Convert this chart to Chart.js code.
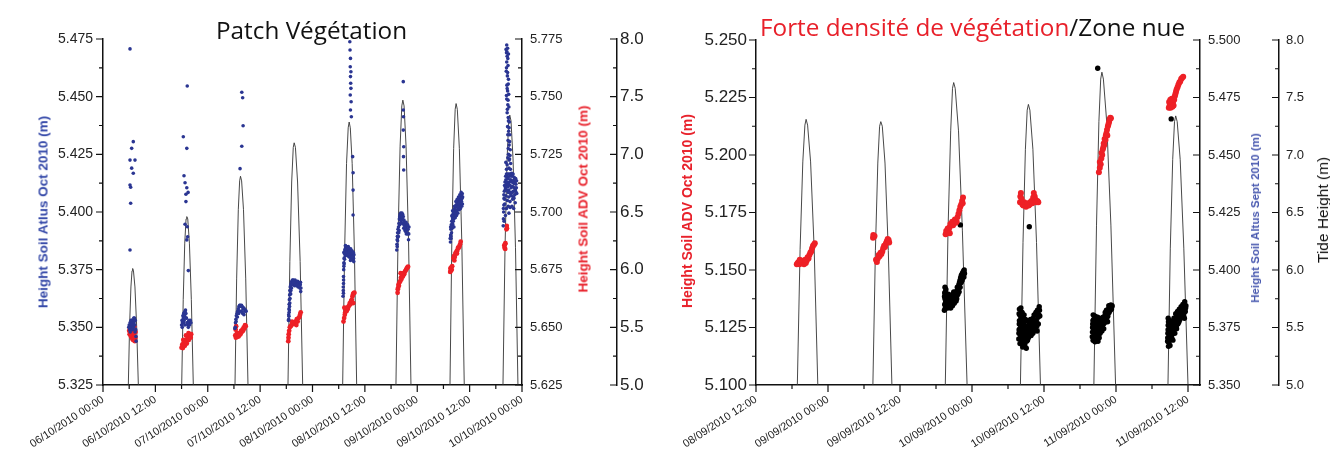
<!DOCTYPE html>
<html>
<head>
<meta charset="utf-8">
<script src="https://cdn.jsdelivr.net/npm/chart.js@4.4.0/dist/chart.umd.min.js"></script>
<style>
  body { margin: 0; background: #fff; }
  #wrap { position: relative; width: 1330px; height: 465px; overflow: hidden; font-family: "Liberation Sans", Arial, sans-serif; }
  canvas { position: absolute; top: 0; }
  .title { position: absolute; font-family: "Open Sans", sans-serif; font-size: 24.3px; line-height: 24px; white-space: nowrap; color: #111; }
  .ytitle { position: absolute; white-space: nowrap; transform: translate(-50%, -50%) rotate(-90deg); font-weight: bold; }
</style>
</head>
<body>
<div id="wrap">
  <canvas id="leftChart" width="665" height="465" style="left:0"></canvas>
  <canvas id="rightChart" width="665" height="465" style="left:665px"></canvas>
  <div class="title" style="left:216px;top:18px">Patch Végétation</div>
  <div class="title" style="left:760px;top:15px"><span style="color:#e8202a">Forte densité de végétation</span>/Zone nue</div>
  <div class="ytitle" style="left:43px;top:212px;font-size:13.5px;color:#3448a8">Height Soil Atlus Oct 2010 (m)</div>
  <div class="ytitle" style="left:583px;top:199px;font-size:13.5px;color:#e8202a">Height Soil ADV Oct 2010 (m)</div>
  <div class="ytitle" style="left:687px;top:211px;font-size:14px;color:#e8202a">Height Soil ADV Oct 2010 (m)</div>
  <div class="ytitle" style="left:1255px;top:218px;font-size:11.5px;color:#4a5ab0">Height Soil Altus Sept 2010 (m)</div>
  <div class="ytitle" style="left:1323px;top:210px;font-size:15.5px;font-weight:normal;color:#111">Tide Height (m)</div>
</div>
<script>
// ===== DATA (x = hours after first tick) =====
const leftDates = ["06/10/2010 00:00", "06/10/2010 12:00", "07/10/2010 00:00", "07/10/2010 12:00",
  "08/10/2010 00:00", "08/10/2010 12:00", "09/10/2010 00:00", "09/10/2010 12:00", "10/10/2010 00:00"];
const rightDates = ["08/09/2010 12:00", "09/09/2010 00:00", "09/09/2010 12:00", "10/09/2010 00:00",
  "10/09/2010 12:00", "11/09/2010 00:00", "11/09/2010 12:00"];

// left panel, blue: Height Soil Atlus Oct 2010
const atlusOct = [
  [6.19,5.4707],[6.94,5.4305],[6.57,5.4276],[6.19,5.4225],[7.33,5.4225],[6.57,5.419],[6.94,5.4168],[6.19,5.4117],[6.34,5.4107],[6.34,5.4038],[6.19,5.3835],
  [5.9,5.350],[6.0,5.351],[6.1,5.349],[6.2,5.352],[6.3,5.350],[6.4,5.351],[6.5,5.353],[6.6,5.350],[6.7,5.352],[6.8,5.351],[6.9,5.353],[7.0,5.350],[7.1,5.352],[7.2,5.354],[7.3,5.351],[7.4,5.353],[7.5,5.349],[7.55,5.346],[7.6,5.344],[6.25,5.348],[6.45,5.353],[6.75,5.349],[7.05,5.354],[7.35,5.348],
  [18.4,5.4326],[19.3,5.4546],[19.2,5.4276],[18.56,5.4157],[18.8,5.4127],[19.2,5.4105],[19.5,5.4085],[19.0,5.4077],[19.0,5.4045],[18.8,5.3947],[19.3,5.3936],[19.4,5.3893],[19.2,5.3879],[19.55,5.3746],
  [18.0,5.351],[18.1,5.353],[18.2,5.352],[18.3,5.355],[18.4,5.354],[18.5,5.356],[18.6,5.353],[18.7,5.355],[18.8,5.357],[18.9,5.3575],[19.0,5.356],[19.1,5.354],[19.25,5.352],[19.4,5.351],[19.55,5.350],[19.7,5.352],[19.85,5.351],[20.0,5.353],[20.15,5.352],[18.15,5.350],[18.45,5.352],[18.75,5.351],[19.05,5.354],[19.35,5.352],[19.65,5.353],[18.65,5.3565],
  [31.8,5.4519],[32.0,5.4495],[32.1,5.4374],[31.8,5.4285],[31.4,5.4188],
  [30.2,5.3495],[30.3,5.350],[30.35,5.352],[30.45,5.3535],[30.55,5.355],[30.7,5.356],[30.85,5.357],[31.0,5.358],[31.15,5.359],[31.3,5.3595],[31.45,5.3595],[31.6,5.359],[31.75,5.3595],[31.9,5.359],[32.05,5.358],[32.2,5.3585],[32.35,5.358],[32.5,5.357],[32.65,5.3575],[32.8,5.357],[30.5,5.3525],[30.8,5.3545],[31.1,5.356],[31.4,5.357],[31.7,5.357],[32.0,5.356],[32.3,5.3555],
  [42.5,5.353],[42.55,5.3555],[42.6,5.358],[42.65,5.360],[42.7,5.362],[42.75,5.364],[42.8,5.366],[42.9,5.3675],[43.0,5.368],[43.1,5.369],[43.25,5.370],[43.4,5.3705],[43.6,5.3705],[43.8,5.370],[44.0,5.3705],[44.2,5.370],[44.4,5.3695],[44.6,5.370],[44.8,5.3695],[45.0,5.369],[45.2,5.3685],[45.35,5.367],[42.55,5.3535],[42.65,5.3565],[42.75,5.359],[42.85,5.3625],[43.0,5.3645],[43.2,5.367],[43.5,5.3685],[43.9,5.368],[44.3,5.368],[44.7,5.3675],[45.1,5.367],
  [42.6,5.3548],[42.7,5.3575],[42.8,5.3605],[42.9,5.3645],[43.05,5.366],[43.15,5.3685],[43.35,5.3688],[43.7,5.3692],[44.1,5.3688],[44.5,5.3685],[44.9,5.368],[45.25,5.3695],[45.3,5.3655],
  [56.55,5.4738],[56.6,5.4702],[56.7,5.4666],[56.65,5.463],[56.8,5.4608],[56.7,5.4587],[56.75,5.4558],[56.8,5.4536],[56.65,5.4507],[56.85,5.4478],[56.7,5.4442],[56.9,5.4413],[57.2,5.424],[57.3,5.417],[57.3,5.4095],[57.3,5.3987],
  [55.0,5.3635],[55.05,5.366],[55.1,5.369],[55.1,5.372],[55.15,5.375],[55.2,5.378],[55.25,5.380],[55.3,5.382],[55.4,5.3835],[55.5,5.384],[55.6,5.385],[55.7,5.3835],[55.8,5.385],[55.9,5.384],[56.0,5.3845],[56.1,5.383],[56.2,5.385],[56.3,5.3835],[56.4,5.384],[56.5,5.382],[56.6,5.3835],[56.7,5.3815],[56.8,5.3825],[56.9,5.381],[57.0,5.3805],[57.1,5.382],[57.2,5.3795],[57.3,5.381],[57.4,5.380],[57.5,5.3815],[55.5,5.381],[55.8,5.3815],[56.1,5.381],[56.4,5.3805],[56.7,5.379],[55.2,5.3825],[55.35,5.3795],
  [55.45,5.3825],[55.65,5.3815],[55.95,5.382],[56.25,5.3815],[56.55,5.3805],[56.85,5.3795],[57.15,5.3805],[57.45,5.3785],[55.55,5.3855],[55.85,5.3838],[56.15,5.3842],[56.45,5.3828],[56.75,5.384],[57.05,5.3832],[57.35,5.3825],[55.05,5.3675],[55.12,5.3705],[55.18,5.3765],[55.25,5.3775],[55.08,5.3648],
  [68.8,5.4565],[68.8,5.4442],[68.85,5.4413],[68.8,5.4355],[68.9,5.4283],[68.85,5.424],[68.9,5.4182],
  [67.3,5.3835],[67.35,5.386],[67.4,5.388],[67.45,5.3895],[67.5,5.391],[67.6,5.3925],[67.7,5.3935],[67.8,5.395],[67.9,5.397],[68.0,5.398],[68.1,5.399],[68.2,5.3995],[68.35,5.399],[68.5,5.3995],[68.65,5.399],[68.8,5.398],[68.95,5.3965],[69.1,5.395],[69.25,5.394],[69.4,5.393],[69.55,5.394],[69.7,5.3925],[69.85,5.3905],[70.0,5.388],[67.55,5.389],[67.75,5.391],[68.0,5.3945],[68.3,5.3955],[68.6,5.395],[68.9,5.393],[69.2,5.392],[69.5,5.3905],[69.8,5.3945],[70.1,5.3935],
  [67.4,5.385],[67.5,5.3875],[67.65,5.3895],[67.85,5.392],[68.05,5.3965],[68.25,5.397],[68.45,5.397],[68.7,5.3965],[68.95,5.3945],[69.15,5.3935],[69.35,5.3915],[69.6,5.392],[69.9,5.3925],[70.05,5.3905],[68.15,5.3985],[68.4,5.3988],[68.6,5.3975],[69.05,5.3958],[69.45,5.3955],[69.75,5.3942],
  [79.6,5.387],[79.65,5.390],[79.7,5.3925],[79.8,5.3945],[79.9,5.396],[80.0,5.398],[80.1,5.397],[80.2,5.399],[80.3,5.400],[80.4,5.401],[80.5,5.3995],[80.6,5.4015],[80.7,5.402],[80.8,5.4005],[80.9,5.403],[81.0,5.4025],[81.1,5.404],[81.2,5.403],[81.3,5.405],[81.4,5.4045],[81.5,5.4035],[81.6,5.4055],[81.7,5.406],[81.8,5.405],[81.9,5.4065],[82.0,5.407],[82.1,5.4055],[82.2,5.4075],[82.3,5.408],[82.4,5.4065],[79.75,5.3885],[80.05,5.395],[80.35,5.397],[80.65,5.399],[80.95,5.4005],[81.25,5.401],[81.55,5.4025],[81.85,5.403],[82.15,5.4045],
  [79.55,5.3885],[79.7,5.3895],[79.85,5.391],[80.0,5.393],[80.15,5.3945],[80.25,5.396],[80.45,5.398],[80.55,5.4025],[80.75,5.3995],[80.85,5.4045],[81.05,5.4005],[81.15,5.4055],[81.35,5.402],[81.45,5.4065],[81.65,5.404],[81.75,5.4075],[81.95,5.4045],[82.05,5.4085],[82.25,5.406],[82.35,5.4035],[80.1,5.4005],[80.4,5.3935],[80.7,5.3975],[81.0,5.3985],[81.3,5.3995],[81.6,5.401],[81.9,5.4015],[82.2,5.4025],[79.65,5.3935],[79.95,5.3985],
  [92.5,5.4724],[92.7,5.471],[92.45,5.469],[92.6,5.4675],[92.9,5.4685],[92.5,5.465],[92.8,5.4635],[92.4,5.461],[92.65,5.459],[92.9,5.4575],[92.55,5.455],[92.7,5.4525],[92.95,5.451],[92.5,5.449],[92.75,5.4465],[93.0,5.4455],[92.6,5.443],[92.85,5.441],[93.1,5.439],[92.7,5.437],[92.95,5.435],[93.2,5.4335],[92.8,5.431],[93.05,5.429],[93.3,5.427],[92.9,5.425],[93.15,5.423],[93.4,5.421],[92.6,5.4205],[93.0,5.419],[92.3,5.4215],
  [92.35,5.4705],[92.55,5.4695],[92.75,5.4665],[92.45,5.4625],[92.7,5.4605],[92.85,5.4555],[92.6,5.4535],[92.45,5.4505],[92.8,5.4485],[92.65,5.4445],[92.9,5.4395],[93.05,5.4365],[92.75,5.4335],[93.15,5.4305],[92.85,5.4275],[93.25,5.4245],[93.05,5.4225],[92.75,5.4235],[93.35,5.4185],[92.45,5.4185],
  [91.7,5.394],[91.75,5.397],[91.8,5.400],[91.85,5.403],[91.9,5.406],[91.95,5.409],[92.0,5.4115],[92.1,5.413],[92.2,5.4105],[92.3,5.414],[92.4,5.412],[92.5,5.4155],[92.6,5.413],[92.7,5.411],[92.8,5.4145],[92.9,5.412],[93.0,5.4095],[93.1,5.413],[93.2,5.4155],[93.3,5.4115],[93.4,5.414],[93.5,5.4105],[93.6,5.413],[93.7,5.4155],[93.8,5.411],[93.9,5.4135],[94.0,5.409],[94.1,5.4125],[94.2,5.415],[94.3,5.4105],[94.4,5.4125],[94.5,5.4095],[94.6,5.412],[94.7,5.4105],[94.8,5.408],[92.05,5.4035],[92.35,5.407],[92.65,5.405],[92.95,5.4065],[93.25,5.4045],[93.55,5.407],[93.85,5.4055],[94.15,5.406],[94.45,5.404],
  [91.75,5.4015],[91.85,5.4075],[92.0,5.4055],[92.15,5.4095],[92.25,5.4155],[92.45,5.4165],[92.55,5.4095],[92.75,5.4165],[92.85,5.4085],[93.05,5.4165],[93.15,5.4085],[93.35,5.4165],[93.45,5.4075],[93.65,5.4168],[93.75,5.4085],[93.95,5.4165],[94.05,5.4065],[94.25,5.4135],[94.35,5.4075],[94.55,5.4145],[94.65,5.4085],[94.75,5.4135],[92.45,5.4015],[92.85,5.4025],[93.3,5.402],[93.7,5.4025],[94.1,5.4015],[92.2,5.3985],[91.9,5.396],[93.0,5.3995]
];

// left panel, red: Height Soil ADV Oct 2010
const advOct = [
  [6.0,5.6485],[6.1,5.647],[6.2,5.6495],[6.3,5.6475],[6.4,5.646],[6.5,5.648],[6.6,5.6465],[6.7,5.645],[6.8,5.6475],[6.9,5.6445],[7.0,5.6465],[7.1,5.6455],[7.2,5.6475],[7.3,5.644],[7.4,5.6455],[6.35,5.6505],[6.85,5.6495],[7.15,5.6505],[7.45,5.648],
  [18.0,5.6412],[18.15,5.6425],[18.3,5.641],[18.45,5.643],[18.6,5.6435],[18.75,5.642],[18.9,5.644],[19.05,5.6445],[19.2,5.643],[19.35,5.645],[19.5,5.6455],[19.65,5.6445],[19.8,5.646],[19.95,5.6465],[20.1,5.6455],[20.2,5.647],[19.6,5.6475],[18.4,5.6445],[19.0,5.6465],
  [30.3,5.6465],[30.45,5.6455],[30.6,5.647],[30.75,5.646],[30.9,5.6475],[31.05,5.646],[31.2,5.6465],[31.35,5.6475],[31.5,5.647],[31.65,5.6485],[31.8,5.648],[31.95,5.649],[32.1,5.6485],[32.25,5.650],[32.4,5.6495],[32.55,5.651],[30.4,5.649],[30.5,5.6505],[32.7,5.6505],
  [42.45,5.644],[42.5,5.6455],[42.55,5.647],[42.65,5.6485],[42.8,5.650],[43.0,5.6505],[43.2,5.651],[43.4,5.6515],[43.6,5.652],[43.8,5.6515],[44.0,5.652],[44.2,5.6525],[44.4,5.6535],[44.6,5.6525],[44.8,5.654],[45.0,5.6545],[45.15,5.6555],[45.3,5.6565],[43.3,5.6525],[44.3,5.651],
  [55.1,5.6525],[55.25,5.654],[55.4,5.6555],[55.5,5.6565],[55.65,5.6575],[55.8,5.657],[55.95,5.6585],[56.1,5.658],[56.25,5.659],[56.4,5.6595],[56.55,5.6605],[56.7,5.660],[56.85,5.6615],[57.0,5.662],[57.15,5.6635],[57.3,5.6645],[57.45,5.6648],[57.6,5.665],[55.3,5.6585],[57.35,5.6605],
  [67.5,5.665],[67.6,5.667],[67.7,5.6685],[67.8,5.668],[67.95,5.6695],[68.1,5.670],[68.25,5.6715],[68.4,5.671],[68.55,5.6725],[68.7,5.672],[68.85,5.6735],[69.0,5.673],[69.15,5.674],[69.3,5.6745],[69.45,5.675],[69.6,5.6755],[69.75,5.676],[69.9,5.6763],[67.55,5.6665],[68.2,5.6735],
  [79.55,5.674],[79.6,5.6755],[79.7,5.6745],[79.8,5.676],[79.9,5.675],[80.0,5.6765],[80.3,5.680],[80.45,5.681],[80.6,5.6805],[80.75,5.682],[80.9,5.6825],[81.05,5.683],[81.2,5.6835],[81.35,5.6845],[81.5,5.6845],[81.65,5.685],[81.8,5.686],[81.95,5.6871],[80.5,5.679],[81.1,5.682],
  [91.95,5.6855],[92.0,5.6845],[92.1,5.686],[92.2,5.6865],[92.15,5.684],[92.45,5.6925],[92.55,5.693],[92.5,5.694]
];

// left panel tide height, one array per high tide
const tideOct = [
  [[5.8,5.0],[6.1,5.52],[6.4,5.85],[6.65,5.99],[6.8,6.01],[6.98,5.99],[7.32,5.85],[7.7,5.52],[8.1,5.0]],
  [[18.03,5.0],[18.38,5.74],[18.73,6.23],[19.03,6.44],[19.2,6.46],[19.42,6.44],[19.8,6.23],[20.24,5.74],[20.69,5.0]],
  [[30.24,5.0],[30.62,5.92],[31.0,6.52],[31.31,6.77],[31.5,6.81],[31.76,6.77],[32.19,6.52],[32.7,5.92],[33.22,5.0]],
  [[42.38,5.0],[42.81,6.07],[43.23,6.76],[43.59,7.06],[43.8,7.10],[44.09,7.06],[44.58,6.76],[45.17,6.07],[45.75,5.0]],
  [[54.91,5.0],[55.36,6.16],[55.8,6.92],[56.18,7.23],[56.4,7.28],[56.66,7.23],[57.09,6.92],[57.6,6.16],[58.12,5.0]],
  [[67.12,5.0],[67.59,6.26],[68.07,7.07],[68.46,7.42],[68.7,7.47],[68.98,7.42],[69.44,7.07],[70.0,6.26],[70.56,5.0]],
  [[79.5,5.0],[79.92,6.24],[80.34,7.05],[80.69,7.39],[80.9,7.44],[81.18,7.39],[81.65,7.05],[82.21,6.24],[82.77,5.0]],
  [[91.64,5.0],[92.11,6.19],[92.58,6.96],[92.97,7.29],[93.2,7.34],[93.48,7.29],[93.95,6.96],[94.51,6.19],[95.07,5.0]]
];

// right panel, red: ADV, dense vegetation
const advDense = [
  [6.8,5.1525],[6.95,5.153],[7.1,5.1535],[7.25,5.1525],[7.4,5.154],[7.55,5.153],[7.7,5.1535],[7.85,5.154],[8.0,5.1525],[8.15,5.1535],[8.3,5.153],[8.45,5.154],[8.6,5.1555],[8.75,5.155],[8.9,5.1565],[9.05,5.1575],[9.2,5.158],[9.35,5.1595],[9.5,5.1605],[9.65,5.161],[9.8,5.1616],[7.3,5.1545],[8.2,5.1545],
  [19.5,5.164],[19.55,5.1652],[19.65,5.1645],[19.75,5.1648],[20.0,5.1545],[20.15,5.1535],[20.3,5.155],[20.45,5.1565],[20.6,5.156],[20.75,5.1575],[20.9,5.157],[21.05,5.158],[21.2,5.1595],[21.35,5.1605],[21.5,5.160],[21.65,5.1615],[21.8,5.1625],[21.95,5.1635],[22.1,5.163],[22.2,5.162],
  [31.6,5.1655],[31.7,5.167],[31.8,5.166],[31.95,5.168],[32.1,5.167],[32.25,5.1685],[32.4,5.170],[32.55,5.1695],[32.7,5.171],[32.85,5.1695],[33.0,5.1705],[33.15,5.172],[33.3,5.1705],[33.45,5.171],[33.6,5.173],[33.75,5.1745],[33.9,5.176],[34.05,5.1775],[34.2,5.1785],[34.35,5.180],[34.5,5.1815],[34.45,5.179],[32.3,5.166],
  [44.0,5.1795],[44.05,5.182],[44.15,5.1835],[44.25,5.181],[44.4,5.1785],[44.55,5.178],[44.7,5.1795],[44.85,5.1785],[45.0,5.1775],[45.15,5.1785],[45.3,5.179],[45.45,5.178],[45.6,5.1785],[45.75,5.1795],[45.9,5.180],[46.05,5.179],[46.2,5.1815],[46.3,5.1835],[46.45,5.182],[46.6,5.1805],[46.75,5.1795],[46.9,5.180],[47.05,5.1795],
  [57.15,5.1925],[57.3,5.1945],[57.3,5.197],[57.45,5.196],[57.55,5.1985],[57.6,5.201],[57.7,5.200],[57.8,5.2025],[57.9,5.2035],[57.95,5.205],[58.05,5.2045],[58.1,5.207],[58.25,5.2065],[58.3,5.2085],[58.4,5.2095],[58.5,5.211],[58.55,5.2085],[58.65,5.2125],[58.75,5.2135],[58.85,5.2145],[58.95,5.2155],[59.05,5.2162],[59.15,5.216],
  [68.8,5.2205],[68.85,5.223],[68.95,5.2215],[69.05,5.224],[69.1,5.2205],[69.2,5.222],[69.3,5.2245],[69.4,5.221],[69.5,5.223],[69.6,5.2215],[69.7,5.224],[69.8,5.2255],[69.9,5.2265],[70.0,5.2275],[70.1,5.2285],[70.25,5.2295],[70.4,5.2305],[70.55,5.2315],[70.7,5.232],[70.85,5.233],[71.0,5.2335],[71.2,5.234]
];

// right panel, black: Altus Sept 2010, bare zone
const altusBare = [
  [34.06,5.4196],[45.55,5.4188],[56.95,5.4877],[69.2,5.4657],
  [31.4,5.3825],[31.45,5.385],[31.5,5.3875],[31.45,5.390],[31.5,5.3925],[31.55,5.3835],[31.6,5.386],[31.7,5.388],[31.8,5.385],[31.9,5.387],[32.0,5.3845],[32.1,5.386],[32.2,5.388],[32.3,5.385],[32.4,5.3865],[32.5,5.389],[32.6,5.3855],[32.7,5.387],[32.8,5.3885],[32.9,5.386],[33.0,5.3875],[33.1,5.3895],[33.2,5.3875],[33.3,5.389],[33.4,5.3905],[33.5,5.389],[33.6,5.391],[33.7,5.392],[33.8,5.3935],[33.9,5.3945],[34.0,5.3955],[34.1,5.3965],[34.2,5.3975],[34.3,5.398],[34.4,5.3985],[34.5,5.399],[34.6,5.3995],[34.7,5.400],[32.05,5.3895],[32.45,5.3835],[32.95,5.3905],[33.35,5.3865],[33.85,5.3905],[34.25,5.395],[34.65,5.397],[31.65,5.3915],[34.0,5.3925],
  [31.42,5.3885],[31.55,5.3905],[31.62,5.3845],[31.75,5.3865],[31.85,5.3895],[31.95,5.3835],[32.15,5.3875],[32.35,5.3875],[32.55,5.3865],[32.75,5.3845],[32.85,5.3895],[33.05,5.3855],[33.25,5.3905],[33.45,5.3875],[33.55,5.3925],[33.65,5.3895],[33.75,5.3905],[33.95,5.3925],[34.15,5.3945],[34.35,5.3955],[34.45,5.3965],[34.55,5.3975],[34.75,5.3985],[33.15,5.3865],
  [43.8,5.370],[43.85,5.374],[43.9,5.378],[43.85,5.381],[43.9,5.383],[44.0,5.368],[44.05,5.372],[44.1,5.376],[44.1,5.380],[44.2,5.3695],[44.25,5.373],[44.3,5.377],[44.35,5.3815],[44.4,5.371],[44.5,5.3745],[44.55,5.3785],[44.6,5.3685],[44.7,5.372],[44.75,5.376],[44.8,5.3675],[44.9,5.3705],[44.95,5.3745],[45.0,5.378],[45.1,5.369],[45.2,5.3725],[45.3,5.3755],[45.4,5.3705],[45.5,5.3735],[45.6,5.3765],[45.7,5.3715],[45.8,5.3745],[45.9,5.378],[46.0,5.3725],[46.1,5.3755],[46.2,5.379],[46.3,5.3735],[46.4,5.377],[46.5,5.3805],[46.6,5.3745],[46.7,5.378],[46.8,5.3815],[46.9,5.3765],[47.0,5.3795],[47.1,5.3825],[47.2,5.384],[47.3,5.380],[44.45,5.3665],[45.05,5.366],[46.85,5.3735],[44.15,5.3835],
  [43.82,5.3725],[43.88,5.3765],[43.95,5.3805],[44.0,5.3745],[44.08,5.3705],[44.15,5.3785],[44.22,5.3745],[44.28,5.3815],[44.32,5.3685],[44.42,5.3755],[44.48,5.3795],[44.52,5.3715],[44.62,5.3765],[44.68,5.3805],[44.72,5.3695],[44.85,5.3735],[44.92,5.3785],[45.02,5.3725],[45.15,5.3755],[45.25,5.3695],[45.35,5.3735],[45.45,5.3775],[45.55,5.3715],[45.65,5.3745],[45.75,5.3785],[45.85,5.3715],[45.95,5.3755],[46.05,5.3785],[46.15,5.3725],[46.25,5.3765],[46.35,5.3805],[46.45,5.3745],[46.55,5.3775],[46.65,5.3815],[46.75,5.3755],[46.95,5.3805],[47.05,5.3765],[47.15,5.3805],[47.25,5.3825],[46.9,5.3825],
  [56.05,5.371],[56.1,5.375],[56.15,5.378],[56.2,5.3805],[56.3,5.3695],[56.35,5.373],[56.4,5.3765],[56.45,5.380],[56.55,5.370],[56.6,5.3735],[56.7,5.377],[56.75,5.3795],[56.85,5.3705],[56.9,5.374],[57.0,5.3775],[57.1,5.3715],[57.15,5.375],[57.25,5.378],[57.35,5.3725],[57.45,5.3755],[57.55,5.379],[57.65,5.3735],[57.75,5.3765],[57.85,5.3795],[57.95,5.3745],[58.05,5.377],[58.15,5.380],[58.25,5.3775],[58.35,5.381],[58.45,5.379],[58.55,5.3825],[58.65,5.380],[58.75,5.383],[58.85,5.3815],[58.95,5.384],[59.05,5.3825],[59.15,5.3848],[59.25,5.383],[59.35,5.3845],[56.5,5.3688],[57.0,5.369],[58.6,5.3775],
  [56.08,5.373],[56.12,5.3765],[56.18,5.3695],[56.25,5.3745],[56.28,5.3785],[56.38,5.3715],[56.42,5.3748],[56.5,5.3785],[56.58,5.3718],[56.65,5.3755],[56.72,5.379],[56.8,5.3725],[56.88,5.3758],[56.95,5.3795],[57.05,5.3735],[57.12,5.3768],[57.2,5.3705],[57.3,5.3745],[57.4,5.3785],[57.5,5.3735],[57.6,5.3775],[57.7,5.3755],[57.8,5.3785],[57.9,5.3765],[58.0,5.3795],[58.1,5.3785],[58.2,5.3815],[58.3,5.3795],[58.4,5.3825],[58.5,5.3805],[58.7,5.3815],[58.8,5.3845],[58.9,5.3825],[59.0,5.3845],[59.1,5.383],[59.3,5.384],
  [68.6,5.369],[68.65,5.3725],[68.7,5.376],[68.7,5.379],[68.8,5.3685],[68.85,5.371],[68.9,5.3745],[68.95,5.378],[69.05,5.370],[69.1,5.373],[69.15,5.3765],[69.25,5.3715],[69.3,5.3745],[69.4,5.3775],[69.5,5.3725],[69.55,5.3755],[69.65,5.379],[69.75,5.3745],[69.85,5.3775],[69.95,5.381],[70.05,5.3755],[70.15,5.3785],[70.25,5.382],[70.35,5.377],[70.45,5.380],[70.55,5.383],[70.65,5.3785],[70.75,5.3815],[70.85,5.384],[70.95,5.380],[71.05,5.3825],[71.15,5.385],[71.25,5.3805],[71.35,5.3835],[71.45,5.3862],[71.55,5.382],[71.65,5.3845],[68.75,5.3668],[69.0,5.3672],[71.4,5.379],
  [68.62,5.3705],[68.68,5.374],[68.75,5.3775],[68.82,5.3725],[68.88,5.376],[68.98,5.3715],[69.02,5.375],[69.12,5.3705],[69.2,5.3745],[69.22,5.3775],[69.35,5.3725],[69.45,5.3755],[69.48,5.3695],[69.6,5.3745],[69.7,5.3775],[69.8,5.3725],[69.9,5.3755],[70.0,5.379],[70.1,5.3745],[70.2,5.3805],[70.3,5.3765],[70.4,5.3795],[70.5,5.3775],[70.6,5.3805],[70.7,5.3795],[70.8,5.3825],[70.9,5.3805],[71.0,5.3835],[71.1,5.3805],[71.2,5.3835],[71.3,5.3815],[71.5,5.3845],[71.6,5.3835],[68.9,5.3695],[69.3,5.3705]
];

// right panel tide height
const tideSept = [
  [[6.89,5.0],[7.35,6.18],[7.8,6.94],[8.15,7.26],[8.35,7.31],[8.6,7.26],[9.1,6.94],[9.7,6.18],[10.3,5.0]],
  [[19.48,5.0],[19.9,6.17],[20.3,6.93],[20.6,7.25],[20.8,7.29],[21.05,7.25],[21.5,6.93],[22.05,6.17],[22.65,5.0]],
  [[31.55,5.0],[32.0,6.34],[32.45,7.21],[32.75,7.58],[32.95,7.63],[33.2,7.58],[33.75,7.21],[34.4,6.34],[35.18,5.0]],
  [[44.07,5.0],[44.5,6.24],[44.9,7.05],[45.2,7.39],[45.4,7.44],[45.65,7.39],[46.15,7.05],[46.75,6.24],[47.41,5.0]],
  [[56.31,5.0],[56.75,6.39],[57.15,7.29],[57.45,7.66],[57.65,7.72],[57.9,7.66],[58.45,7.29],[59.15,6.39],[59.93,5.0]],
  [[68.66,5.0],[69.05,6.19],[69.45,6.96],[69.75,7.29],[69.95,7.34],[70.2,7.29],[70.7,6.96],[71.3,6.19],[72.0,5.0]]
];

// ===== HELPERS =====
Chart.defaults.font.family = '"Liberation Sans", Arial, sans-serif';
Chart.defaults.color = "#222";

// major + minor tick marks, pointing in or out per axis
const tickMarks = {
  id: "tickMarks",
  afterDraw(chart) {
    const ctx = chart.ctx;
    ctx.save();
    ctx.strokeStyle = "#111";
    ctx.lineWidth = 1.2;
    ctx.beginPath();
    Object.values(chart.scales).forEach(s => {
      const o = s.options.tickMarks;
      if (!o) return;
      const vals = s.ticks.map(t => t.value);
      vals.forEach((v, i) => {
        const marks = [[v, o.major]];
        if (i < vals.length - 1) marks.push([(v + vals[i + 1]) / 2, o.minor]);
        marks.forEach(([val, len]) => {
          const p = s.getPixelForValue(val);
          if (s.isHorizontal()) {
            ctx.moveTo(p, s.top); ctx.lineTo(p, s.top + len);
          } else {
            const x = s.position === "left" ? s.right : s.left;
            ctx.moveTo(x, p); ctx.lineTo(x + o.dir * len, p);
          }
        });
      });
    });
    ctx.stroke();
    ctx.restore();
  }
};

function pts(list) {
  return list.map(p => ({x: p[0], y: p[1]}));
}

function yScale(position, min, max, step, digits, size, width, pad, dir, weight) {
  return {
    type: "linear", position, min, max, weight,
    border: {color: "#111", width: 1.5},
    grid: {display: false, drawTicks: false},
    ticks: {stepSize: step, padding: pad, color: "#222", font: {size}, callback: v => v.toFixed(digits)},
    afterFit: s => { s.width = width; },
    tickMarks: {major: 7, minor: 4, dir}
  };
}

function xScale(max, labels) {
  return {
    type: "linear", position: "bottom", min: 0, max,
    border: {color: "#111", width: 1.5},
    grid: {display: false, drawTicks: false},
    ticks: {stepSize: 12, includeBounds: false, autoSkip: false, maxRotation: 33, minRotation: 33,
      padding: 8, color: "#222", font: {size: 11}, callback: v => labels[v / 12] ?? ""},
    afterFit: s => { s.height = 80; },
    tickMarks: {major: 7, minor: 4, dir: 1}
  };
}

function dots(list, axis, color, r) {
  return {data: pts(list), yAxisID: axis, backgroundColor: color, borderColor: color,
    borderWidth: 0, pointRadius: r, order: 1};
}

function tideLines(arcs) {
  return arcs.map(a => ({data: pts(a), yAxisID: "tide", showLine: true, borderColor: "#333",
    borderWidth: 0.9, pointRadius: 0, order: 5}));
}

const baseOptions = (top, scales) => ({
  responsive: false,
  animation: false,
  events: [],
  layout: {padding: {top}},
  plugins: {legend: {display: false}, tooltip: {enabled: false}},
  scales
});

// ===== LEFT CHART =====
new Chart(document.getElementById("leftChart"), {
  type: "scatter",
  data: {
    datasets: [
      dots(atlusOct, "atlus", "#2a3592", 1.8),
      dots(advOct, "adv", "#ee2026", 2.4),
      ...tideLines(tideOct)
    ]
  },
  options: baseOptions(39, {
    x: xScale(96, leftDates),
    atlus: yScale("left", 5.325, 5.475, 0.025, 3, 14, 103, 10, -1, 0),
    adv: yScale("right", 5.625, 5.775, 0.025, 3, 13, 95, 8, -1, 1),
    tide: yScale("right", 5, 8, 0.5, 1, 17, 48, 3, -1, 2)
  }),
  plugins: [tickMarks]
});

// ===== RIGHT CHART =====
new Chart(document.getElementById("rightChart"), {
  type: "scatter",
  data: {
    datasets: [
      dots(advDense, "adv", "#ee2026", 3),
      dots(altusBare, "altus", "#000", 2.7),
      ...tideLines(tideSept)
    ]
  },
  options: baseOptions(40, {
    x: xScale(74, rightDates),
    adv: yScale("left", 5.1, 5.25, 0.025, 3, 17, 91, 9, -1, 0),
    altus: yScale("right", 5.35, 5.5, 0.025, 3, 13, 79, 8, -1, 1),
    tide: yScale("right", 5, 8, 0.5, 1, 13, 51, 7, -1, 2)
  }),
  plugins: [tickMarks]
});
</script>
</body>
</html>
